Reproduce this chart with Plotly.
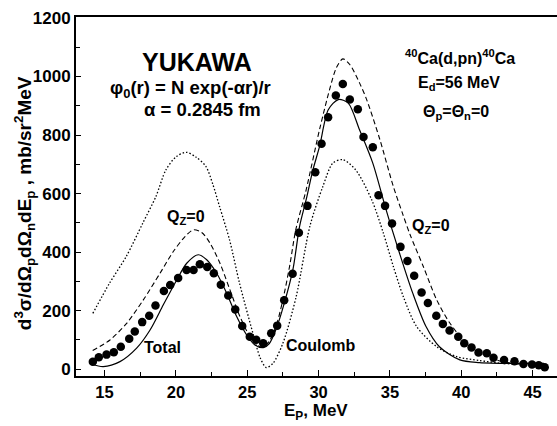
import plotly.graph_objects as go

# Experimental points: proton energy (MeV) and triple-differential cross section
exp_e = [14.18, 14.60, 15.14, 15.65, 16.14, 16.73, 17.12, 17.64, 18.13, 18.57,
         19.16, 19.60, 20.16, 20.75, 21.24, 21.68, 22.20, 22.66, 23.15, 23.67,
         24.16, 24.65, 25.18, 25.63, 26.12, 26.68, 27.10, 27.59, 28.18, 28.62,
         29.22, 29.77, 30.21, 30.67, 31.21, 31.70, 32.19, 32.75, 33.15, 33.80,
         34.20, 34.66, 35.15, 35.74, 36.23, 36.70, 37.22, 37.66, 38.25, 38.71,
         39.18, 39.79, 40.21, 40.72, 41.21, 41.79, 42.26, 43.00, 43.73, 44.36,
         44.96, 45.43, 45.85]
exp_xs = [26, 41, 50, 58, 77, 104, 129, 161, 183, 218,
          267, 288, 312, 339, 339, 359, 349, 328, 289, 252,
          204, 148, 111, 101, 89, 123, 149, 236, 326, 466,
          558, 673, 770, 861, 935, 974, 921, 888, 793, 758,
          594, 558, 498, 418, 370, 319, 262, 226, 183, 155,
          132, 111, 89, 74, 57, 55, 39, 32, 27, 18,
          16, 14, 7]

# Calculation: total (nuclear + Coulomb)
tot_e = [14.10, 14.91, 16.08, 17.25, 18.19, 19.12, 20.06, 20.76, 21.57, 22.16,
         22.86, 23.56, 24.26, 24.96, 25.54, 26.13, 26.55, 27.00, 27.60, 28.20,
         28.67, 29.13, 29.60, 30.07, 30.68, 31.38, 32.08, 32.87, 33.80, 34.73,
         35.67, 36.60, 37.53, 38.47, 39.90, 41.28, 43.60, 45.80]
tot_xs = [17, 9, 26, 72, 134, 220, 305, 362, 391, 374,
          328, 260, 180, 117, 83, 74, 88, 134, 226, 340,
          488, 579, 680, 761, 886, 921, 909, 818, 704, 545,
          397, 260, 146, 77, 32, 23, 20, 20]

# Calculation with Q_Z = 0
qz_e = [14.17, 15.38, 16.55, 17.72, 18.89, 19.82, 20.64, 21.22, 21.81, 22.39,
        23.09, 23.79, 24.49, 25.19, 25.66, 26.10, 26.60, 27.10, 27.60, 28.00,
        28.40, 29.13, 30.07, 30.77, 31.25, 31.70, 32.20, 32.87, 33.37, 34.30,
        35.24, 35.90, 36.41, 37.34, 38.28, 39.21, 40.61, 42.48, 44.35, 45.80]
qz_xs = [64, 100, 157, 237, 328, 402, 453, 476, 467, 431,
         362, 271, 180, 111, 83, 76, 100, 160, 260, 360,
         476, 613, 819, 955, 1030, 1060, 1040, 978, 921, 784,
         624, 530, 460, 351, 237, 157, 77, 32, 15, 9]

# Pure Coulomb calculation
coul_e = [14.18, 15.35, 16.52, 17.69, 18.60, 19.30, 20.00, 20.72, 21.40, 22.10,
          22.60, 23.06, 23.76, 24.46, 25.40, 25.90, 26.33, 26.80, 27.50, 28.43,
          29.40, 30.30, 31.00, 31.70, 32.60, 33.72, 34.54, 35.24, 35.94, 36.87,
          38.28, 39.68, 41.28, 42.94, 45.70]
coul_xs = [191, 294, 385, 500, 590, 681, 725, 741, 725, 693,
           630, 556, 442, 294, 123, 40, 6, 20, 89, 248,
           490, 624, 704, 716, 681, 579, 465, 351, 248, 146,
           77, 43, 30, 20, 15]

x_ticks = [15, 20, 25, 30, 35, 40, 45]
y_ticks = [0, 200, 400, 600, 800, 1000, 1200]

FONT = "Liberation Sans, Arial, sans-serif"
INK = "black"

fig = go.Figure()

fig.add_trace(go.Scatter(x=coul_e, y=coul_xs, mode="lines",
                         line=dict(color=INK, width=1.3, dash="1.5px,2px", shape="spline", smoothing=0.8),
                         showlegend=False))
fig.add_trace(go.Scatter(x=qz_e, y=qz_xs, mode="lines",
                         line=dict(color=INK, width=1.1, dash="5px,3px", shape="spline", smoothing=0.8),
                         showlegend=False))
fig.add_trace(go.Scatter(x=tot_e, y=tot_xs, mode="lines",
                         line=dict(color=INK, width=1.2, shape="spline", smoothing=0.8),
                         showlegend=False))
fig.add_trace(go.Scatter(x=exp_e, y=exp_xs, mode="markers",
                         marker=dict(color=INK, size=8.5, symbol="circle"),
                         showlegend=False))

def label(x, y, text, size=16, **kw):
    fig.add_annotation(x=x, y=y, xref="x", yref="y", text=f"<b>{text}</b>",
                       xanchor="center", yanchor="middle",
                       showarrow=False, font=dict(family=FONT, size=size, color=INK), **kw)

label(21.48, 1050, "YUKAWA", size=25)
label(20.99, 958, "φ<sub>0</sub>(r) = N exp(-αr)/r", size=18.5)
label(21.9, 888, "α = 0.2845 fm", size=18.5)
label(39.91, 1068, "<sup>40</sup>Ca(d,pn)<sup>40</sup>Ca", size=16)
label(39.84, 975, "E<sub>d</sub>=56 MeV", size=16)
label(39.6, 878, "Θ<sub>p</sub>=Θ<sub>n</sub>=0", size=16)
label(20.74, 520, "Q<sub>Z</sub>=0", size=16)
label(37.91, 488, "Q<sub>Z</sub>=0", size=16)
label(19.03, 76, "Total", size=16)
label(30.17, 80, "Coulomb", size=16)

# Axis titles
fig.add_annotation(x=29.82, y=-0.099, xref="x", yref="paper",
                   xanchor="center", yanchor="middle",
                   text="<b>E<sub>P</sub>, MeV</b>", showarrow=False,
                   font=dict(family=FONT, size=17, color=INK))
fig.add_annotation(x=-0.107, y=0.48, xref="paper", yref="paper", textangle=-90,
                   xanchor="center", yanchor="middle",
                   text="<b>d<sup>3</sup>σ/dΩ<sub>p</sub>dΩ<sub>n</sub>dE<sub>p</sub> , mb/sr<sup>2</sup>MeV</b>",
                   showarrow=False, font=dict(family=FONT, size=19, color=INK))

fig.update_xaxes(range=[13, 46.71], tickvals=x_ticks, ticktext=[f"<b>{v}</b>" for v in x_ticks],
                 ticks="inside", ticklen=6, tickwidth=1.2, tickcolor=INK,
                 minor=dict(dtick=2.5, tick0=12.5, ticks="inside", ticklen=4, tickwidth=1.2, tickcolor=INK),
                 showline=True, linecolor=INK, linewidth=2, mirror=True,
                 showgrid=False, zeroline=False,
                 tickfont=dict(family=FONT, size=16.5, color=INK))
fig.update_yaxes(range=[-23, 1203], tickvals=y_ticks, ticktext=[f"<b>{v}</b>" for v in y_ticks],
                 ticks="inside", ticklen=5, tickwidth=1.2, tickcolor=INK,
                 minor=dict(dtick=100, tick0=0, ticks="inside", ticklen=4, tickwidth=1.2, tickcolor=INK),
                 showline=True, linecolor=INK, linewidth=2, mirror=False,
                 showgrid=False, zeroline=False,
                 tickfont=dict(family=FONT, size=17, color=INK))

fig.update_layout(width=557, height=426,
                  margin=dict(l=76, r=0, t=17, b=50),
                  plot_bgcolor="white", paper_bgcolor="white",
                  font=dict(family=FONT, color=INK))

fig.write_html("out.html")
